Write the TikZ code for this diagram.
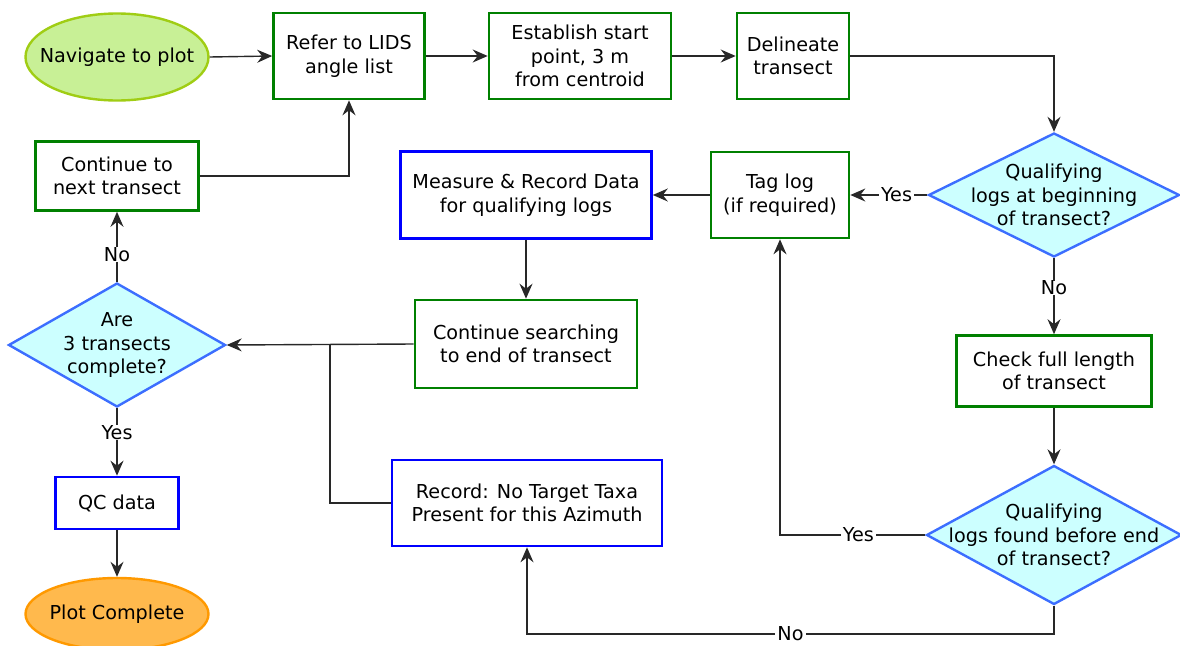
\documentclass[tikz,border=0pt]{standalone}
\usepackage{fontspec}
\setmainfont{DejaVu Sans}
\usetikzlibrary{shapes.geometric,arrows.meta}
\definecolor{boxgreen}{RGB}{0,128,0}
\definecolor{boxblue}{RGB}{0,0,255}
\definecolor{diaborder}{RGB}{60,110,255}
\definecolor{diafill}{RGB}{204,255,255}
\definecolor{navfill}{RGB}{200,240,150}
\definecolor{navborder}{RGB}{160,205,20}
\definecolor{endfill}{RGB}{255,185,77}
\definecolor{endborder}{RGB}{255,153,0}
\definecolor{linecol}{RGB}{40,40,40}
\begin{document}
\begin{tikzpicture}[x=1pt,y=-1pt,
  every node/.style={font=\fontsize{19.2}{23.5}\selectfont, align=center, inner sep=0pt},
  gbox/.style={draw=boxgreen, line width=2.6pt, fill=white, rectangle},
  bbox/.style={draw=boxblue, line width=2.6pt, fill=white, rectangle},
  dia/.style={draw=diaborder, line width=2.4pt, fill=diafill, diamond, inner sep=0pt},
  conn/.style={draw=linecol, line width=1.4pt, -{Stealth[length=15pt,width=13pt,inset=5pt]}},
  plain/.style={draw=linecol, line width=1.4pt},
  lbl/.style={fill=white, inner xsep=2pt, inner ysep=0pt}
]
\useasboundingbox (0,0) rectangle (1180,645);

% nodes
\node[ellipse, draw=navborder, line width=2.4pt, fill=navfill, minimum width=183pt, minimum height=87pt] (nav) at (117,57) {};
\node (navt) at (117,57) {Navigate to plot};
\node[gbox, minimum width=151pt, minimum height=86pt] (refer) at (349,56) {Refer to LIDS\\angle list};
\node[gbox, minimum width=182pt, minimum height=86pt] (est) at (580,56) {Establish start\\point, 3 m\\from centroid};
\node[gbox, minimum width=112pt, minimum height=86pt] (del) at (793,56) {Delineate\\transect};
\node[gbox, minimum width=163pt, minimum height=69pt] (cnt) at (117,176) {Continue to\\next transect};
\node[bbox, minimum width=251pt, minimum height=87pt] (meas) at (526,195) {Measure \& Record Data\\for qualifying logs};
\node[gbox, minimum width=138pt, minimum height=86pt] (tag) at (780,195) {Tag log\\(if required)};
\node[dia, minimum width=251pt, minimum height=124pt] (q1) at (1054,195) {};
\node (q1t) at (1054,195) {Qualifying\\logs at beginning\\of transect?};
\node[dia, minimum width=217pt, minimum height=124pt] (are) at (117,345) {};
\node (aret) at (117,345) {Are\\3 transects\\complete?};
\node[gbox, minimum width=222pt, minimum height=88pt] (srch) at (526,344) {Continue searching\\to end of transect};
\node[gbox, minimum width=195pt, minimum height=71pt] (chk) at (1054,371) {Check full length\\of transect};
\node[bbox, minimum width=123pt, minimum height=52pt] (qc) at (117,503) {QC data};
\node[bbox, minimum width=270pt, minimum height=86pt] (rec) at (527,503) {Record: No Target Taxa\\Present for this Azimuth};
\node[dia, minimum width=255pt, minimum height=139pt] (q2) at (1054,535) {};
\node (q2t) at (1054,535) {Qualifying\\logs found before end\\of transect?};
\node[ellipse, draw=endborder, line width=2.4pt, fill=endfill, minimum width=183pt, minimum height=72pt] (done) at (117,614) {};
\node (donet) at (117,614) {Plot Complete};

\coordinate (j) at (330,344);
\coordinate (nobot) at (1054,634);

% connectors
\draw[conn] (nav.east) -- (refer.west);
\draw[conn] (refer.east) -- (est.west);
\draw[conn] (est.east) -- (del.west);
\draw[conn] (del.east) -| (q1.north);
\draw[conn] (q1.west) -- node[lbl, pos=0.4]{Yes} (tag.east);
\draw[conn] (tag.west) -- (meas.east);
\draw[conn] (meas.south) -- (srch.north);
\draw[conn] (q1.south) -- node[lbl, pos=0.39]{No} (chk.north);
\draw[conn] (chk.south) -- (q2.north);
\draw[conn] (q2.west) -- node[lbl, pos=0.46]{Yes} (q2.west -| tag.south) -- (tag.south);
\draw[conn] (q2.south) -- (nobot) -- node[lbl, pos=0.5]{No} (nobot -| rec.south) -- (rec.south);
\draw[conn] (srch.west) -- (are.east);
\draw[plain] (rec.west) -| (j);
\draw[conn] (are.north) -- node[lbl, pos=0.39]{No} (cnt.south);
\draw[conn] (cnt.east) -| (refer.south);
\draw[conn] (are.south) -- node[lbl, pos=0.36]{Yes} (qc.north);
\draw[conn] (qc.south) -- (done.north);
\end{tikzpicture}
\end{document}
